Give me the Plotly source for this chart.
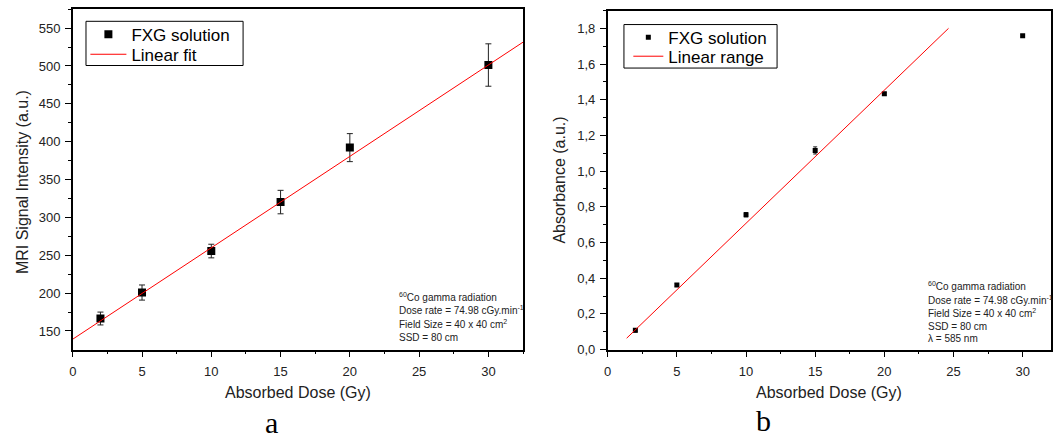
import plotly.graph_objects as go

# ---- data ----
dose_a = [2, 5, 10, 15, 20, 30]
signal_a = [166.5, 200.8, 255.6, 320.3, 392.2, 501.3]
signal_err_a = [8.5, 10, 9, 15.5, 18.5, 28]
fit_x_a = [0, 34]
fit_y_a = [139.2, 549.6]

dose_b = [2, 5, 10, 15, 20, 30]
absorb_b = [0.108, 0.362, 0.756, 1.116, 1.433, 1.758]
absorb_err_b = [0.01, 0.008, 0.012, 0.02, 0.008, 0.006]
fit_x_b = [1.37, 24.64]
fit_y_b = [0.064, 1.80]

W, H = 1057, 447
def px(x): return x / W
def py(y): return 1 - y / H

FONT = "Liberation Sans, Arial, sans-serif"
fig = go.Figure()

fig.add_trace(go.Scatter(x=dose_a, y=signal_a, mode="markers", name="FXG solution",
                         marker=dict(symbol="square", size=8, color="black"),
                         error_y=dict(type="data", array=signal_err_a, color="#222", thickness=1, width=3),
                         xaxis="x", yaxis="y", legend="legend"))
fig.add_trace(go.Scatter(x=fit_x_a, y=fit_y_a, mode="lines", name="Linear fit",
                         line=dict(color="red", width=1), xaxis="x", yaxis="y", legend="legend2"))

fig.add_trace(go.Scatter(x=dose_b, y=absorb_b, mode="markers", name="FXG solution",
                         marker=dict(symbol="square", size=5, color="black"),
                         error_y=dict(type="data", array=absorb_err_b, color="#222", thickness=1, width=2),
                         xaxis="x2", yaxis="y2", legend="legend3"))
fig.add_trace(go.Scatter(x=fit_x_b, y=fit_y_b, mode="lines", name="Linear range",
                         line=dict(color="red", width=1), xaxis="x2", yaxis="y2", legend="legend4"))

axis_common = dict(showline=True, linecolor="black", linewidth=1.5, mirror=True,
                   ticks="outside", ticklen=6, tickwidth=1, tickcolor="black",
                   showgrid=False, zeroline=False,
                   tickfont=dict(family=FONT, size=13, color="#222"))
xminor = dict(dtick=2.5, ticks="outside", ticklen=3, tickcolor="black")

def leg(xo, yc, iw):
    # xo: item origin (px), yc: item centre (px)
    return dict(x=px(xo - 5), y=py(yc), xanchor="left", yanchor="middle",
                borderwidth=0, bgcolor="rgba(0,0,0,0)",
                font=dict(family=FONT, size=17, color="black"), itemwidth=iw)

fig.update_layout(
    width=W, height=H, margin=dict(l=0, r=0, t=0, b=0),
    paper_bgcolor="white", plot_bgcolor="white",
    separators=",.",
    xaxis=dict(domain=[px(69), px(521)], range=[0, 32.5], dtick=5, anchor="y",
               ticklabelstandoff=3, minor=xminor, **axis_common),
    yaxis=dict(domain=[py(356), py(9)], range=[125.4, 575.5], dtick=50, tick0=0, anchor="x",
               ticklabelstandoff=2,
               minor=dict(dtick=25, ticks="outside", ticklen=3, tickcolor="black"), **axis_common),
    xaxis2=dict(domain=[px(606), px(1051)], range=[0, 32.05], dtick=5, anchor="y2",
                ticklabelstandoff=3, minor=xminor, **axis_common),
    yaxis2=dict(domain=[py(356), py(10.7)], range=[0, 1.9], dtick=0.2, tickformat=".1f", anchor="x2",
                ticklabelstandoff=2,
                minor=dict(dtick=0.1, ticks="outside", ticklen=3, tickcolor="black"), **axis_common),
    legend=leg(86.7, 35.3, 36),
    legend2=leg(86.7, 55.7, 36),
    legend3=leg(631.7, 38.3, 30),
    legend4=leg(631.7, 57.7, 30),
    showlegend=True,
    shapes=[
        dict(type="rect", xref="paper", yref="paper", x0=px(82.3), x1=px(240), y0=py(66.7), y1=py(21.7),
             line=dict(color="black", width=1), fillcolor="rgba(0,0,0,0)", layer="above"),
        dict(type="rect", xref="paper", yref="paper", x0=px(622.3), x1=px(776), y0=py(69.3), y1=py(25),
             line=dict(color="black", width=1), fillcolor="rgba(0,0,0,0)", layer="above"),
    ],
)

ann = []
def add(**kw):
    kw.setdefault("xref", "paper")
    kw.setdefault("yref", "paper")
    kw.setdefault("showarrow", False)
    ann.append(kw)

add(text="Absorbed Dose (Gy)", x=px(295), y=py(400), xanchor="center", yanchor="middle",
    font=dict(family=FONT, size=16, color="#222"))
add(text="Absorbed Dose (Gy)", x=px(828.5), y=py(400), xanchor="center", yanchor="middle",
    font=dict(family=FONT, size=16, color="#222"))
add(text="MRI Signal Intensity (a.u.)", x=px(18.5), y=py(185), textangle=-90,
    xanchor="center", yanchor="middle", font=dict(family=FONT, size=16, color="#222"))
add(text="Absorbance (a.u.)", x=px(558), y=py(183), textangle=-90,
    xanchor="center", yanchor="middle", font=dict(family=FONT, size=16, color="#222"))
add(text="a", x=px(269), y=py(430), xanchor="center", yanchor="middle",
    font=dict(family="Liberation Serif, Times New Roman, serif", size=30, color="black"))
add(text="b", x=px(762), y=py(428), xanchor="center", yanchor="middle",
    font=dict(family="Liberation Serif, Times New Roman, serif", size=30, color="black"))

info_a = ["<sup>60</sup>Co gamma radiation", "Dose rate = 74.98 cGy.min<sup>-1</sup>",
          "Field Size = 40 x 40 cm<sup>2</sup>", "SSD = 80 cm"]
ys_a = [302, 316, 330, 344]
for t, yy in zip(info_a, ys_a):
    add(text=t, x=px(394), y=py(yy), xanchor="left", yanchor="middle",
        font=dict(family=FONT, size=10, color="#222"))
info_b = ["<sup>60</sup>Co gamma radiation", "Dose rate = 74.98 cGy.min<sup>-1</sup>",
          "Field Size = 40 x 40 cm<sup>2</sup>", "SSD = 80 cm", "λ = 585 nm"]
ys_b = [291, 305, 319, 332, 345]
for t, yy in zip(info_b, ys_b):
    add(text=t, x=px(926), y=py(yy), xanchor="left", yanchor="middle",
        font=dict(family=FONT, size=10, color="#222"))
fig.update_layout(annotations=ann)

fig.write_html("out.html")
